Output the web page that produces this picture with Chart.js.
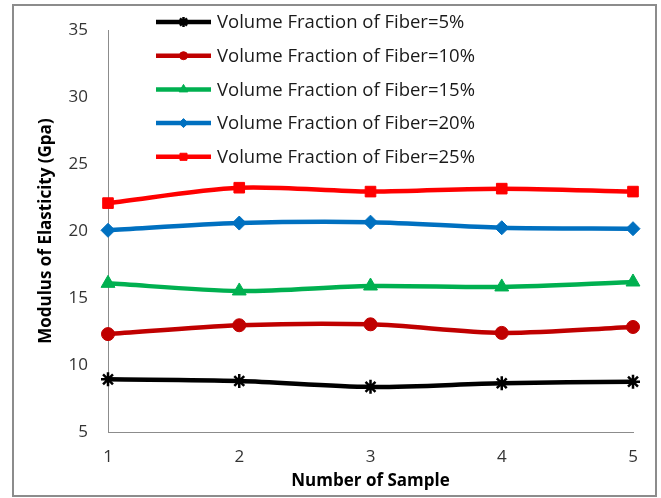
<!DOCTYPE html>
<html>
<head>
<meta charset="utf-8">
<script src="https://cdn.jsdelivr.net/npm/chart.js@4/dist/chart.umd.min.js"></script>
<style>
  html, body { margin: 0; padding: 0; background: #fff; }
  #wrap { width: 661px; height: 498px; position: relative; }
</style>
</head>
<body>
<div id="wrap"><canvas id="c" width="661" height="498"></canvas></div>
<script>
// Sample numbers along the x axis
const samples = ['1', '2', '3', '4', '5'];

// Modulus of elasticity (GPa) for each fiber volume fraction
const vf5  = [8.93, 8.81, 8.37, 8.64, 8.76];
const vf10 = [12.31, 12.97, 13.04, 12.40, 12.84];
const vf15 = [16.10, 15.53, 15.90, 15.83, 16.20];
const vf20 = [20.06, 20.60, 20.67, 20.25, 20.18];
const vf25 = [22.09, 23.24, 22.95, 23.17, 22.95];

const seriesLabels = [
  'Volume Fraction of Fiber=5%',
  'Volume Fraction of Fiber=10%',
  'Volume Fraction of Fiber=15%',
  'Volume Fraction of Fiber=20%',
  'Volume Fraction of Fiber=25%'
];

const yMin = 5, yMax = 35, yStep = 5;

const FONT = '"Open Sans", Lato, "Liberation Sans", sans-serif';

function ds(label, data, color, style, radius, legendRadius) {
  return {
    label, data,
    borderColor: color, backgroundColor: color,
    pointStyle: style, pointRadius: radius, pointHoverRadius: radius,
    pointBorderColor: color, pointBackgroundColor: color,
    pointBorderWidth: style === 'star' ? 2.5 : 1,
    borderWidth: 4.5, tension: 0.3,
    legendRadius
  };
}

const datasets = [
  ds(seriesLabels[0], vf5,  '#000000', 'star',     7, 5),
  ds(seriesLabels[1], vf10, '#C00000', 'circle',   6.5, 4),
  ds(seriesLabels[2], vf15, '#00B050', 'triangle', 8, 5),
  ds(seriesLabels[3], vf20, '#0070C0', 'rectRot',  7, 4.5),
  ds(seriesLabels[4], vf25, '#FF0000', 'rect',     7.5, 5)
];

// Outer frame around the whole figure
const framePlugin = {
  id: 'frame',
  beforeDraw(chart) {
    const ctx = chart.ctx;
    ctx.save();
    ctx.fillStyle = '#fff';
    ctx.fillRect(0, 0, chart.width, chart.height);
    ctx.strokeStyle = '#8c8c8c';
    ctx.lineWidth = 2;
    ctx.strokeRect(13, 5, 643, 491);
    ctx.restore();
  }
};

// Legend drawn inside the plot: line sample with marker, then label
const innerLegend = {
  id: 'innerLegend',
  afterDatasetsDraw(chart) {
    const ctx = chart.ctx;
    const x0 = 156, x1 = 211, tx = 217, y0 = 22, dy = 33.7;
    ctx.save();
    chart.data.datasets.forEach((d, i) => {
      const y = y0 + i * dy;
      ctx.strokeStyle = d.borderColor;
      ctx.lineWidth = 4.5;
      ctx.beginPath();
      ctx.moveTo(x0, y);
      ctx.lineTo(x1, y);
      ctx.stroke();
      ctx.fillStyle = d.pointBackgroundColor;
      ctx.strokeStyle = d.pointBorderColor;
      ctx.lineWidth = d.pointBorderWidth;
      Chart.helpers.drawPoint(ctx, { pointStyle: d.pointStyle, radius: d.legendRadius, rotation: 0, borderWidth: d.pointBorderWidth }, (x0 + x1) / 2, y);
      ctx.fillStyle = '#1a1a1a';
      ctx.font = '18.5px ' + FONT;
      ctx.textBaseline = 'middle';
      ctx.textAlign = 'left';
      ctx.fillText(d.label, tx, y + 1);
    });
    ctx.restore();
  }
};

new Chart(document.getElementById('c'), {
  type: 'line',
  data: { labels: samples, datasets },
  plugins: [framePlugin, innerLegend],
  options: {
    responsive: false,
    animation: false,
    devicePixelRatio: 1,
    layout: { padding: { left: 32, right: 28, top: 23, bottom: 3 } },
    plugins: { legend: { display: false }, tooltip: { enabled: false } },
    scales: {
      x: {
        type: 'category',
        offset: false,
        grid: { display: false, drawTicks: false },
        border: { display: true, color: '#8c8c8c', width: 1 },
        ticks: { color: '#333', font: { family: FONT, size: 17 }, padding: 15, maxRotation: 0 },
        title: { display: true, text: 'Number of Sample', color: '#000', font: { family: FONT, size: 17, weight: 'bold' }, padding: 4 },
        afterFit(s) { s.height = 63; }
      },
      y: {
        min: yMin, max: yMax,
        grid: { display: false, drawTicks: false },
        border: { display: true, color: '#8c8c8c', width: 1 },
        ticks: { stepSize: yStep, color: '#333', font: { family: FONT, size: 17 }, padding: 20 },
        title: { display: true, text: 'Modulus of Elasticity (Gpa)', color: '#000', font: { family: FONT, size: 17, weight: 'bold' }, padding: 4 },
        afterFit(s) { s.width = 76; }
      }
    }
  }
});
</script>
</body>
</html>
